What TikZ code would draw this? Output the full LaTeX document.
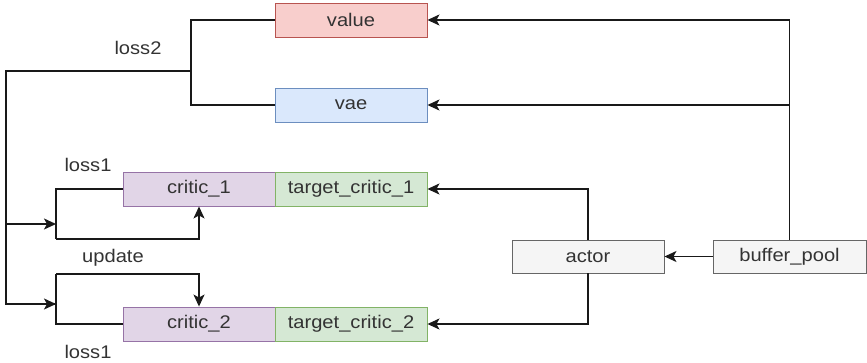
\documentclass[tikz,border=0pt]{standalone}
\usepackage{fontspec}
\setmainfont[FakeStretch=1.1]{Liberation Sans}
\usetikzlibrary{arrows.meta}
\definecolor{redfill}{HTML}{F8CECC}\definecolor{redline}{HTML}{B85450}
\definecolor{bluefill}{HTML}{DAE8FC}\definecolor{blueline}{HTML}{6C8EBF}
\definecolor{purpfill}{HTML}{E1D5E7}\definecolor{purpline}{HTML}{9673A6}
\definecolor{greenfill}{HTML}{D5E8D4}\definecolor{greenline}{HTML}{82B366}
\definecolor{grayfill}{HTML}{F5F5F5}\definecolor{grayline}{HTML}{666666}
\definecolor{txt}{HTML}{333333}
\tikzset{
  box/.style={draw, line width=0.9pt, minimum width=152pt, minimum height=34pt, inner sep=0pt, text=txt, font=\fontsize{18.3}{20}\selectfont},
  redbox/.style={box, fill=redfill, draw=redline},
  bluebox/.style={box, fill=bluefill, draw=blueline},
  purpbox/.style={box, fill=purpfill, draw=purpline},
  greenbox/.style={box, fill=greenfill, draw=greenline},
  graybox/.style={box, fill=grayfill, draw=grayline},
  wire/.style={draw=black!90, line width=1.5pt},
  arr/.style={wire, -{Stealth[length=12pt,width=11pt,inset=3pt]}},
  lbl/.style={text=txt, font=\fontsize{18.3}{20}\selectfont, inner sep=0pt}
}
\begin{document}
\begin{tikzpicture}[x=1pt,y=-1pt]
\useasboundingbox (0,0) rectangle (867,362);
\node[redbox] (value) at (351,20) {value};
\node[bluebox] (vae) at (351,105) {vae};
\node[purpbox] (c1) at (199,189) {critic\_1};
\node[greenbox] (tc1) at (351,189) {target\_critic\_1};
\node[purpbox] (c2) at (199,324) {critic\_2};
\node[greenbox] (tc2) at (351,324) {target\_critic\_2};
\node[graybox, minimum height=33pt] (actor) at (588,256.5) {actor};
\node[graybox, minimum height=33pt, minimum width=153pt] (buf) at (789.5,256.5) {buffer\_pool};

\coordinate (sp) at (191,71);
\coordinate (lx) at (6,71);
\coordinate (b1) at (56,224);
\coordinate (b2) at (56,304);
\coordinate (u1) at (56,189);
\coordinate (d1) at (56,239);
\coordinate (u2) at (56,274);
\coordinate (d2) at (56,324);

% right side
\draw[arr] (buf.north) |- (value.east);
\draw[arr] (buf.north) |- (vae.east);
\draw[arr] (buf.west) -- (actor.east);
\draw[arr] (actor.north) |- (tc1.east);
\draw[arr] (actor.south) |- (tc2.east);

% left side
\draw[wire] (value.west) -| (sp) |- (vae.west);
\draw[wire] (sp) -- (lx) |- (b2);
\draw[arr] (lx) |- (b1);
\draw[arr] (lx |- b2) -- (b2);
\draw[wire] (c1.west) -- (u1) -- (d1);
\draw[arr] (d1) -| (c1.south);
\draw[arr] (u2) -| (c2.north);
\draw[wire] (u2) -- (d2) -- (c2.west);

\node[lbl] (l2) at (138,48) {loss2};
\node[lbl] (l1a) at (88,165) {loss1};
\node[lbl] (up) at (113,258) {update};
\node[lbl] (l1b) at (88,352) {loss1};
\end{tikzpicture}
\end{document}
